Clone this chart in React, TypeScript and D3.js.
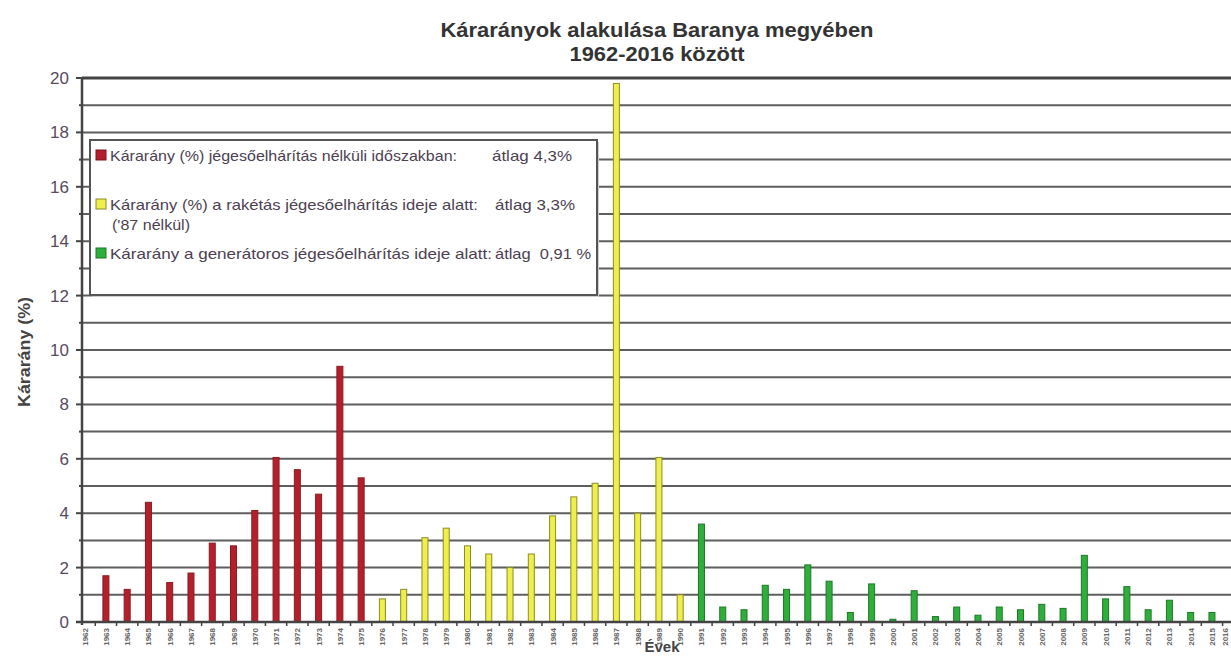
import React from "react";
import * as d3 from "d3";

const years: string[] = [
  "1962","1963","1964","1965","1966","1967","1968","1969","1970","1971","1972","1973","1974","1975",
  "1976","1977","1978","1979","1980","1981","1982","1983","1984","1985","1986","1987","1988","1989","1990",
  "1991","1992","1993","1994","1995","1996","1997","1998","1999","2000","2001","2002","2003","2004","2005",
  "2006","2007","2008","2009","2010","2011","2012","2013","2014","2015","2016",
];

// Kárarány jégesőelhárítás nélkül (1962-1975)
const noDefenseYears: string[] = ["1962","1963","1964","1965","1966","1967","1968","1969","1970","1971","1972","1973","1974","1975"];
const noDefenseValues: (number | null)[] = [null, 1.7, 1.2, 4.4, 1.45, 1.8, 2.9, 2.8, 4.1, 6.05, 5.6, 4.7, 9.4, 5.3];

// Kárarány rakétás jégesőelhárítás alatt (1976-1990)
const rocketYears: string[] = ["1976","1977","1978","1979","1980","1981","1982","1983","1984","1985","1986","1987","1988","1989","1990"];
const rocketValues: (number | null)[] = [0.85, 1.2, 3.1, 3.45, 2.8, 2.5, 2.0, 2.5, 3.9, 4.6, 5.1, 19.8, 4.0, 6.05, 1.0];

// Kárarány generátoros jégesőelhárítás alatt (1991-2016)
const generatorYears: string[] = [
  "1991","1992","1993","1994","1995","1996","1997","1998","1999","2000","2001","2002","2003","2004","2005",
  "2006","2007","2008","2009","2010","2011","2012","2013","2014","2015","2016",
];
const generatorValues: (number | null)[] = [
  3.6, 0.55, 0.45, 1.35, 1.2, 2.1, 1.5, 0.35, 1.4, 0.1, 1.15, 0.2, 0.55, 0.25, 0.55,
  0.45, 0.65, 0.5, 2.45, 0.85, 1.3, 0.45, 0.8, 0.35, 0.35, null,
];

const yTicks: number[] = [0, 2, 4, 6, 8, 10, 12, 14, 16, 18, 20];
const yGrid: number[] = [0, 1, 2, 3, 4, 5, 6, 7, 8, 9, 10, 11, 12, 13, 14, 15, 16, 17, 18, 19, 20];

const legendItems = [
  { color: "#b3202c", stroke: "#7e1219", label: "Kárarány (%) jégesőelhárítás nélküli időszakban:", avg: "átlag 4,3%", extra: "" },
  { color: "#eeee4c", stroke: "#8d8d22", label: "Kárarány (%) a rakétás jégesőelhárítás ideje alatt:", avg: "átlag 3,3%", extra: "('87 nélkül)" },
  { color: "#2fae3c", stroke: "#1b7a26", label: "Kárarány a generátoros jégesőelhárítás ideje alatt:", avg: "átlag  0,91 %", extra: "" },
];

const seriesList = [
  { years: noDefenseYears, values: noDefenseValues, fill: "#b3202c", stroke: "#8e1822" },
  { years: rocketYears, values: rocketValues, fill: "#eeee4c", stroke: "#8d8d22" },
  { years: generatorYears, values: generatorValues, fill: "#2fae3c", stroke: "#1b7a26" },
];

const W = 1231;
const H = 657;
const plotLeft = 82;
const plotTop = 78;
const plotBottom = 622;

export default function App() {
  const x = d3.scaleBand<string>().domain(years).range([74, 74 + 55 * 21.27]).padding(0);
  const y = d3.scaleLinear().domain([0, 20]).range([plotBottom, plotTop]);
  const bw = 6;
  const font = "'Liberation Sans', Arial, sans-serif";
  const legendLayout = [
    { by: 160, labelLen: 347, avgX: 492, avgLen: 80 },
    { by: 209, labelLen: 368, avgX: 495, avgLen: 80 },
    { by: 258, labelLen: 382, avgX: 495, avgLen: 96 },
  ];
  const textColor = "#4c3f52";

  return (
    <svg
      width={W}
      height={H}
      style={{ position: "absolute", left: 0, top: 0, background: "#ffffff" }}
      fontFamily={font}
    >
      <rect x={0} y={0} width={W} height={H} fill="#ffffff" />
      {/* Title */}
      <text x={657} y={37} textAnchor="middle" fontSize={20} fontWeight="bold" fill="#333"
        textLength={433} lengthAdjust="spacingAndGlyphs">
        Kárarányok alakulása Baranya megyében
      </text>
      <text x={657} y={61} textAnchor="middle" fontSize={20} fontWeight="bold" fill="#333"
        textLength={175} lengthAdjust="spacingAndGlyphs">
        1962-2016 között
      </text>

      {/* Gridlines */}
      {yGrid.map((v) => (
        <line
          key={"g" + v}
          x1={plotLeft}
          x2={W}
          y1={y(v)}
          y2={y(v)}
          stroke={v === 20 ? "#444" : "#5e5e5e"}
          strokeWidth={v === 20 ? 3 : 2}
        />
      ))}

      {/* Y ticks */}
      {yGrid.map((v) => (
        <line
          key={"t" + v}
          x1={v % 2 === 0 ? plotLeft - 6 : plotLeft - 3}
          x2={plotLeft}
          y1={y(v)}
          y2={y(v)}
          stroke="#444"
          strokeWidth={2}
        />
      ))}
      {yTicks.map((v) => (
        <text key={"yl" + v} x={69} y={y(v) + 6} textAnchor="end" fontSize={17} fill="#564a5e">
          {v}
        </text>
      ))}

      {/* Legend box */}
      <rect x={92} y={142} width={507} height={155} fill="#cfcfcf" />
      <rect x={90} y={140} width={507} height={155} fill="#ffffff" stroke="#555" strokeWidth={2} />
      {legendItems.map((it, i) => {
        const L = legendLayout[i];
        return (
          <g key={"lg" + i}>
            <rect x={96} y={L.by - 10} width={10} height={10} fill={it.color} stroke={it.stroke} strokeWidth={1} />
            <text x={110} y={L.by + 1} fontSize={15} fill={textColor}
              textLength={L.labelLen} lengthAdjust="spacingAndGlyphs">
              {it.label}
            </text>
            <text x={L.avgX} y={L.by + 1} fontSize={15} fill={textColor} style={{ whiteSpace: "pre" }}
              textLength={L.avgLen} lengthAdjust="spacingAndGlyphs">
              {it.avg}
            </text>
            {it.extra ? (
              <text x={112} y={L.by + 21} fontSize={15} fill={textColor}
                textLength={78} lengthAdjust="spacingAndGlyphs">
                {it.extra}
              </text>
            ) : null}
          </g>
        );
      })}

      {/* Bars */}
      {seriesList.map((s, si) =>
        s.years.map((yr, i) => {
          const v = s.values[i];
          if (v === null || v === undefined) return null;
          const cx = (x(yr) as number) + x.bandwidth() / 2;
          return (
            <rect
              key={"b" + si + "-" + yr}
              x={cx - bw / 2}
              y={y(v)}
              width={bw}
              height={y(0) - y(v)}
              fill={s.fill}
              stroke={s.stroke}
              strokeWidth={1}
            />
          );
        })
      )}

      {/* Axes */}
      <line x1={plotLeft} x2={plotLeft} y1={plotTop - 1} y2={plotBottom + 3} stroke="#444" strokeWidth={2.5} />
      <line x1={plotLeft - 6} x2={W} y1={plotBottom} y2={plotBottom} stroke="#444" strokeWidth={2.5} />
      {years.map((yr) => (
        <line
          key={"xt" + yr}
          x1={(x(yr) as number) + x.bandwidth()}
          x2={(x(yr) as number) + x.bandwidth()}
          y1={plotBottom}
          y2={plotBottom + 4}
          stroke="#444"
          strokeWidth={1.5}
        />
      ))}
      {years.map((yr) => {
        const cx = (x(yr) as number) + x.bandwidth() / 2 + 3;
        return (
          <text
            key={"xl" + yr}
            transform={`translate(${Math.min(cx, 1228)},${628}) rotate(-90)`}
            textAnchor="end"
            fontSize={8}
            fontWeight="bold"
            fill="#666"
          >
            {yr}
          </text>
        );
      })}

      {/* Axis titles */}
      <text x={662} y={652} textAnchor="middle" fontSize={15} fontWeight="bold" fill="#444">
        Évek
      </text>
      <text
        transform={`translate(${30},${352}) rotate(-90)`}
        textAnchor="middle"
        fontSize={17}
        fontWeight="bold"
        fill="#444"
        textLength={110}
        lengthAdjust="spacingAndGlyphs"
      >
        Kárarány (%)
      </text>
    </svg>
  );
}
